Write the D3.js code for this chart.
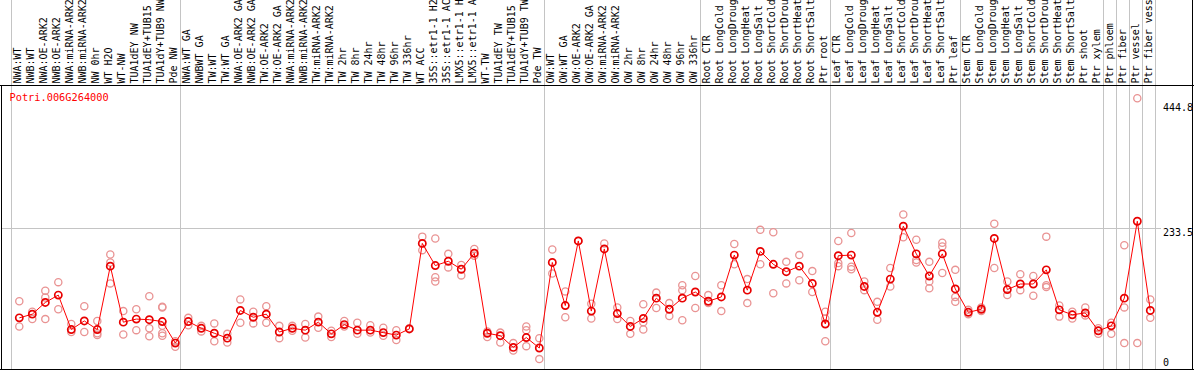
<!DOCTYPE html>
<html>
<head>
<meta charset="utf-8">
<script src="https://cdn.jsdelivr.net/npm/d3@7"></script>
<style>
  html, body { margin: 0; padding: 0; background: #fff; }
  svg { display: block; }
  text { font-family: "DejaVu Sans Mono", "Liberation Mono", monospace; }
</style>
</head>
<body>
<svg id="chart" width="1194" height="370"></svg>
<script>
const geneId = "Potri.006G264000";

const categories = [
  "NWA:WT","NWB:WT","NWA:OE-ARK2","NWB:OE-ARK2","NWA:miRNA-ARK2","NWB:miRNA-ARK2",
  "NW 0hr","WT H2O","WT-NW","TUA1dEY NW","TUA1dEY+TUB15 NW","TUA1dY+TUB9 NW","Pde NW",
  "NWA:WT GA","NWBWT GA","TW:WT","TW:WT GA","NWA:OE-ARK2 GA","NWB:OE-ARK2 GA",
  "TW:OE-ARK2","TW:OE-ARK2 GA","NWA:miRNA-ARK2 GA","NWB:miRNA-ARK2 GA","TW:miRNA-ARK2",
  "TW:miRNA-ARK2 GA","TW 2hr","TW 8hr","TW 24hr","TW 48hr","TW 96hr","TW 336hr","WT ACC",
  "35S::etr1-1 H2O","35S::etr1-1 ACC","LMX5::etr1-1 H2O","LMX5::etr1-1 ACC","WT-TW",
  "TUA1dEY TW","TUA1dEY+TUB15 TW","TUA1dY+TUB9 TW","Pde TW",
  "OW:WT","OW:WT GA","OW:OE-ARK2","OW:OE-ARK2 GA","OW:miRNA-ARK2","OW:miRNA-ARK2 GA",
  "OW 2hr","OW 8hr","OW 24hr","OW 48hr","OW 96hr","OW 336hr",
  "Root CTR","Root LongCold","Root LongDrought","Root LongHeat","Root LongSalt",
  "Root ShortCold","Root ShortDrought","Root ShortHeat","Root ShortSalt","Ptr root",
  "Leaf CTR","Leaf LongCold","Leaf LongDrought","Leaf LongHeat","Leaf LongSalt",
  "Leaf ShortCold","Leaf ShortDrought","Leaf ShortHeat","Leaf ShortSalt","Ptr leaf",
  "Stem CTR","Stem LongCold","Stem LongDrought","Stem LongHeat","Stem LongSalt",
  "Stem ShortCold","Stem ShortDrought","Stem ShortHeat","Stem ShortSalt","Ptr shoot",
  "Ptr xylem","Ptr phloem","Ptr fiber","Ptr vessel","Ptr fiber vessel"
];

// last category of each group (a separator follows it)
const groupEnds = ["Pde NW","Pde TW","OW 336hr","Ptr root","Ptr leaf","Ptr xylem",
  "Ptr phloem","Ptr fiber","Ptr vessel","Ptr fiber vessel"];

const means = [
  88,94,113,125,69,83,69,172,81,86,85,82,47,
  82,71,63,55,100,89,94,65,71,68,81,62,77,68,68,64,60,70,209,173,180,167,193,63,59,40,56,39,
  178,108,213,99,200,95,74,87,120,102,120,130,115,
  122,190,133,196,175,163,172,144,78,189,
  190,139,97,151,237,192,156,192,135,97,
  102,217,134,143,143,166,101,93,96,67,
  75,120,245,100
];

const replicates = [
  [115,74],[98,86],[132,121,86],[146,102],[78,65],[107,65],[83,60,63],[191,178,144],[99,61],[102,68],
  [123,71,58],[106,105,75,63,59],[41,50],
  [88,76],[75,66],[79,50],[62,48],[118,80],[98,79],[107,80],[75,55],[75,67],[78,56],[90,72],[67,57],
  [83,74],[80,62],[76,64],[72,59],[68,52],[71],[220,198],[217,154,147],[192,170],[174,157],[200,189],
  [66,57],[64,48],[47,35],[74,68,42],[55,21],
  [199,160],[131,89],[213],[111,87],[209],[105,86],[83,62],[110,81,69],[129,104],[112,91],
  [141,133,84],[156,104],[125,112],
  [141,99],[208,175],[151,112],[231,175],[227,128],[179,144],[190,149],[164,130],[98,87,50],
  [213,177,172],
  [226,171,167],[147,133],[114,85],[169,139],[256,219],[215,182,178],[179,147,136],[210,204,161],
  [166,122,114],[101,94],
  [105,99],[241,169],[147,125],[159,133],[156,124],[220,141,138],[108,90],[98,87],[105,92],[71,62],
  [80,62],[206,105,47],[445,47],[118,88]
];

const yTicks = [0, 233.5, 444.8];

const svg = d3.select("#chart");
const W = 1194, H = 370;
const plotTop = 85, plotBottom = 369, plotLeft = 1, plotRight = 1192;

const x = d3.scaleBand().domain(categories).range([12.8, 12.8 + 13 * categories.length]);
const cx = d => x(d) + x.bandwidth() / 2;
const y = d3.scaleLinear().domain([0, 444.8]).range([372, 98.3]);

// vertical group separators
const sepXs = [x(categories[0]) - 1.5].concat(groupEnds.map(c => x(c) + x.bandwidth() - 1.5));
svg.append("g").selectAll("line").data(sepXs).join("line")
  .attr("x1", d => Math.round(d) + 0.5).attr("x2", d => Math.round(d) + 0.5)
  .attr("y1", 0).attr("y2", H)
  .attr("stroke", "#c4c4c4").attr("stroke-width", 1).attr("shape-rendering", "crispEdges");

// horizontal gridline at middle tick
svg.append("line")
  .attr("x1", plotLeft).attr("x2", 1161)
  .attr("y1", Math.round(y(yTicks[1])) + 0.5).attr("y2", Math.round(y(yTicks[1])) + 0.5)
  .attr("stroke", "#c4c4c4").attr("shape-rendering", "crispEdges");

// frame
const frame = svg.append("g").attr("stroke", "#000").attr("shape-rendering", "crispEdges");
frame.append("line").attr("x1", 0).attr("x2", W).attr("y1", plotTop + 0.5).attr("y2", plotTop + 0.5);
frame.append("line").attr("x1", 0).attr("x2", W).attr("y1", plotBottom + 0.5).attr("y2", plotBottom + 0.5);
frame.append("line").attr("x1", plotLeft + 0.5).attr("x2", plotLeft + 0.5).attr("y1", plotTop).attr("y2", H);
frame.append("line").attr("x1", plotRight + 0.5).attr("x2", plotRight + 0.5).attr("y1", 0).attr("y2", H);

// category labels (rotated)
svg.append("g").selectAll("text").data(categories).join("text")
  .attr("transform", d => `translate(${cx(d) + 1.8},83.5) rotate(-90)`)
  .attr("font-size", 10).attr("fill", "#000")
  .text(d => d);

// y tick labels
const tickLabelY = { 0: 366, 233.5: 236, 444.8: 111 };
svg.append("g").selectAll("text").data(yTicks).join("text")
  .attr("x", 1163).attr("y", d => tickLabelY[d])
  .attr("font-size", 10).attr("fill", "#000")
  .text(d => d === 0 ? "0" : d.toFixed(1));

// gene id
svg.append("text").attr("x", 9.5).attr("y", 100.5)
  .attr("font-size", 10.3).attr("fill", "#ff0000").text(geneId);

// replicate points
const repData = [];
categories.forEach((c, i) => replicates[i].forEach(v => repData.push({ c, v })));
svg.append("g").selectAll("circle").data(repData).join("circle")
  .attr("cx", d => cx(d.c)).attr("cy", d => y(d.v)).attr("r", 3.6)
  .attr("fill", "none").attr("stroke", "#e99393").attr("stroke-width", 1.3);

// mean line
const line = d3.line().x((d, i) => cx(categories[i])).y(d => y(d));
svg.append("path").datum(means).attr("d", line)
  .attr("fill", "none").attr("stroke", "#ff0000").attr("stroke-width", 1);

// mean points
svg.append("g").selectAll("circle").data(means).join("circle")
  .attr("cx", (d, i) => cx(categories[i])).attr("cy", d => y(d)).attr("r", 3.6)
  .attr("fill", "none").attr("stroke", "#e80000").attr("stroke-width", 1.7);
</script>
</body>
</html>
